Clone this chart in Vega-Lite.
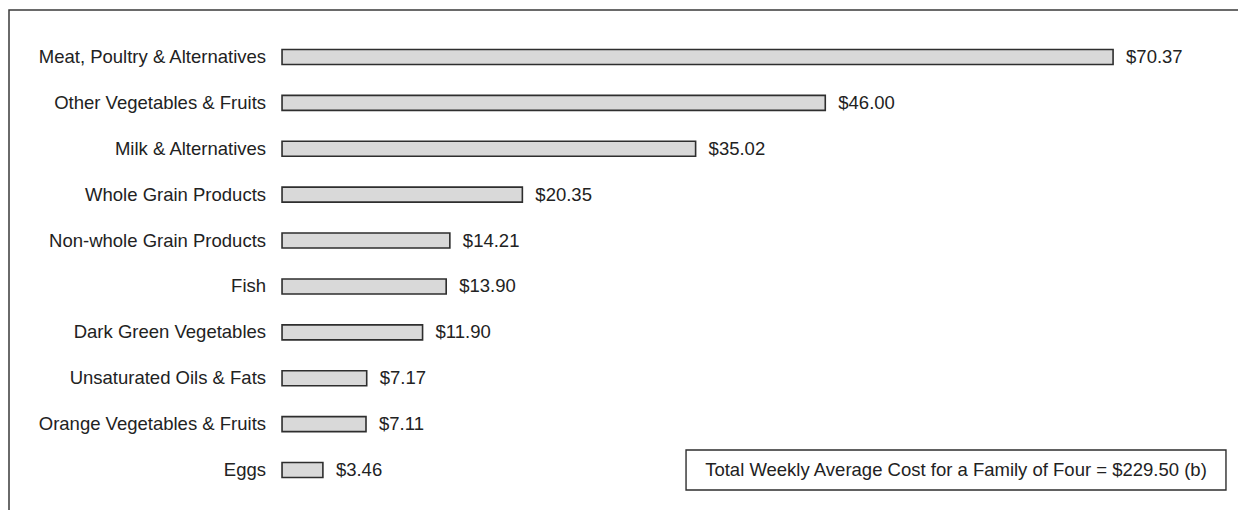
{
  "$schema": "https://vega.github.io/schema/vega-lite/v6.json",
  "width": 1270,
  "height": 507,
  "autosize": {"type": "none"},
  "padding": {"left": 9, "top": 10, "right": 0, "bottom": 0},
  "background": "white",
  "view": {"stroke": "#3a3a3a", "strokeWidth": 1.5},
  "config": {"font": "Liberation Sans"},
  "data": {
    "values": [
      {"category": "Meat, Poultry & Alternatives", "cost": 70.37},
      {"category": "Other Vegetables & Fruits", "cost": 46.00},
      {"category": "Milk & Alternatives", "cost": 35.02},
      {"category": "Whole Grain Products", "cost": 20.35},
      {"category": "Non-whole Grain Products", "cost": 14.21},
      {"category": "Fish", "cost": 13.90},
      {"category": "Dark Green Vegetables", "cost": 11.90},
      {"category": "Unsaturated Oils & Fats", "cost": 7.17},
      {"category": "Orange Vegetables & Fruits", "cost": 7.11},
      {"category": "Eggs", "cost": 3.46}
    ]
  },
  "encoding": {
    "y": {
      "field": "category",
      "type": "nominal",
      "sort": null,
      "axis": null,
      "scale": {"paddingInner": 0, "paddingOuter": 0.524}
    }
  },
  "layer": [
    {
      "mark": {"type": "bar", "size": 15, "fill": "#d9d9d9", "stroke": "#2e2e2e", "strokeWidth": 1.6},
      "encoding": {
        "x": {"field": "cost", "type": "quantitative", "axis": null, "scale": {"domain": [-23.12, 84.42], "nice": false, "zero": false}}
      }
    },
    {
      "mark": {"type": "text", "align": "right", "baseline": "middle", "dx": -16, "fontSize": 18.5, "fill": "#222"},
      "encoding": {
        "x": {"datum": 0},
        "text": {"field": "category"}
      }
    },
    {
      "mark": {"type": "text", "align": "left", "baseline": "middle", "dx": 13, "fontSize": 18.5, "fill": "#222"},
      "encoding": {
        "x": {"field": "cost", "type": "quantitative"},
        "text": {"field": "cost", "type": "quantitative", "format": "$.2f"}
      }
    },
    {
      "data": {"values": [{"note": "Total Weekly Average Cost for a Family of Four = $229.50 (b)"}]},
      "layer": [
        {
          "mark": {"type": "bar", "size": 40, "fill": "white", "stroke": "#2e2e2e", "strokeWidth": 1.4},
          "encoding": {
            "x": {"datum": 34.21},
            "x2": {"datum": 79.93},
            "y": {"datum": "Eggs"}
          }
        },
        {
          "mark": {"type": "text", "align": "center", "baseline": "middle", "fontSize": 18.5, "fill": "#222"},
          "encoding": {
            "x": {"datum": 57.07},
            "y": {"datum": "Eggs"},
            "text": {"field": "note"}
          }
        }
      ]
    }
  ]
}
